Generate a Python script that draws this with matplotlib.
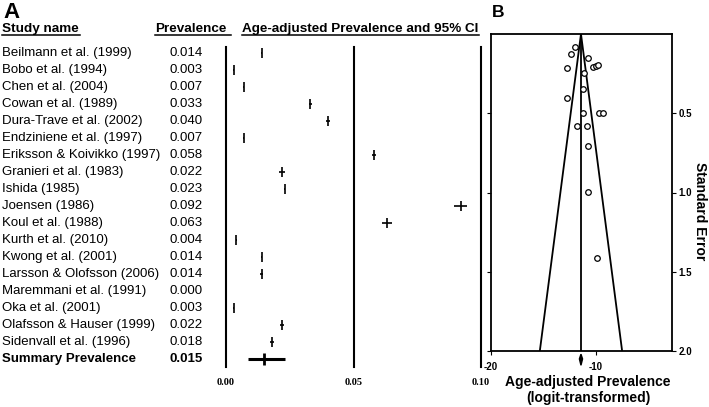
import matplotlib
matplotlib.use('Agg')
from matplotlib import pyplot as plt
from matplotlib import transforms
from matplotlib.lines import Line2D

plt.rcParams['font.family'] = ['Liberation Sans', 'DejaVu Sans']

#Panel A: forest plot data
studies = ['Beilmann et al. (1999)', 'Bobo et al. (1994)', 'Chen et al. (2004)',
           'Cowan et al. (1989)', 'Dura-Trave et al. (2002)', 'Endziniene et al. (1997)',
           'Eriksson & Koivikko (1997)', 'Granieri et al. (1983)', 'Ishida (1985)',
           'Joensen (1986)', 'Koul et al. (1988)', 'Kurth et al. (2010)',
           'Kwong et al. (2001)', 'Larsson & Olofsson (2006)', 'Maremmani et al. (1991)',
           'Oka et al. (2001)', 'Olafsson & Hauser (1999)', 'Sidenvall et al. (1996)']
prev = [0.014, 0.003, 0.007, 0.033, 0.040, 0.007, 0.058, 0.022, 0.023,
        0.092, 0.063, 0.004, 0.014, 0.014, 0.000, 0.003, 0.022, 0.018]
ci_lo = [0.0137, 0.0028, 0.0068, 0.0325, 0.0393, 0.0068, 0.0573, 0.0208, 0.0228,
         0.0893, 0.0610, 0.0038, 0.0138, 0.0135, 0.0000, 0.0028, 0.0212, 0.0173]
ci_hi = [0.0143, 0.0032, 0.0072, 0.0337, 0.0407, 0.0072, 0.0587, 0.0232, 0.0232,
         0.0947, 0.0650, 0.0042, 0.0142, 0.0145, 0.0002, 0.0032, 0.0228, 0.0187]
summary_label = 'Summary Prevalence'
summary_prev = 0.015
summary_lo = 0.0086
summary_hi = 0.0231
forest_ticks = [0.00, 0.05, 0.10]
forest_ticklabels = ['0.00', '0.05', '0.10']

#Panel B: funnel plot data
logit_prev = [-12.00, -12.41, -12.79, -10.73, -10.31, -10.03, -9.78, -11.14, -11.21,
              -12.73, -11.21, -9.71, -9.30, -11.84, -10.89, -10.73, -10.73, -9.93]
std_err = [0.080, 0.128, 0.216, 0.153, 0.206, 0.200, 0.197, 0.248, 0.349,
           0.406, 0.500, 0.500, 0.500, 0.579, 0.579, 0.705, 0.999, 1.411]
funnel_center = -11.43
se_max = 2.0

W, H = 709, 407
fig = plt.figure(figsize=(W/100, H/100), dpi=100)
fig.patch.set_facecolor('white')

#---- Panel A ----
nrow = len(studies) + 1
axA = fig.add_axes([226/W, 1-367/H, 255/W, 320/H])
axA.set_xlim(0, 0.10)
axA.set_ylim(nrow-1 + 8/17, -6/17)
for s in axA.spines.values():
    s.set_visible(False)
axA.set_yticks([])
axA.set_xticks(forest_ticks)
axA.set_xticklabels(forest_ticklabels, family='Liberation Serif', weight='bold', size=7.5)
axA.tick_params(axis='x', length=0, pad=8)
for v in forest_ticks:
    axA.axvline(v, color='k', lw=1.5, clip_on=False)

rows = list(range(len(studies)))
axA.hlines(rows, ci_lo, ci_hi, color='k', lw=1.2)
axA.plot(prev, rows, '|', color='k', ms=7, mew=1.2)
axA.hlines(nrow-1, summary_lo, summary_hi, color='k', lw=2.2)
axA.plot([summary_prev], [nrow-1], '|', color='k', ms=9, mew=2)

trans = transforms.blended_transform_factory(fig.transFigure, axA.transData)
for i, name in enumerate(studies):
    fig.text(2/W, i, name, transform=trans, va='center', size=9.5)
    fig.text(170/W, i, '%.3f' % prev[i], transform=trans, va='center', size=9.5)
fig.text(2/W, nrow-1, summary_label, transform=trans, va='center', size=9.5, weight='bold')
fig.text(170/W, nrow-1, '%.3f' % summary_prev, transform=trans, va='center', size=9.5, weight='bold')

#headers with underline
hdrs = []
for x, s in [(2, 'Study name'), (155, 'Prevalence'), (242, 'Age-adjusted Prevalence and 95% CI')]:
    hdrs.append(fig.text(x/W, 1-32/H, s, va='baseline', size=9.7, weight='bold'))
fig.canvas.draw()
rend = fig.canvas.get_renderer()
for t, extra in zip(hdrs, [1, 5, 1]):
    bb = t.get_window_extent(rend)
    fig.add_artist(Line2D([bb.x0/W, (bb.x1+extra)/W], [(H-35)/H, (H-35)/H],
                          transform=fig.transFigure, color='k', lw=1.1))

fig.text(3/W, 1-18/H, 'A', size=16, weight='bold', va='baseline')
fig.text(492/W, 1-17/H, 'B', size=12.5, weight='bold', va='baseline')

#---- Panel B ----
axB = fig.add_axes([491/W, 1-351/H, 181/W, 317/H])
axB.set_xlim(-20, -2.76)
axB.set_ylim(se_max, 0)
for s in axB.spines.values():
    s.set_linewidth(1.3)
axB.plot([funnel_center, funnel_center], [0, se_max], color='k', lw=1.3)
axB.plot([funnel_center-1.96*se_max, funnel_center, funnel_center+1.96*se_max],
         [se_max, 0, se_max], color='k', lw=1.3)
axB.plot(logit_prev, std_err, 'o', ms=4, mfc='white', mec='k', mew=0.9)
axB.fill([funnel_center, funnel_center+0.15, funnel_center, funnel_center-0.15],
         [2.02, 2.05, 2.09, 2.05], color='k', clip_on=False)

axB.set_xticks([-20, -10])
axB.set_xticklabels(['-20', '-10'])
axB.set_yticks([0.5, 1.0, 1.5, 2.0])
axB.set_yticklabels(['0.5', '1.0', '1.5', '2.0'])
axB.tick_params(axis='x', direction='out', length=3, width=0.8, labelsize=7, pad=5)
axB.tick_params(axis='y', left=True, right=True, labelleft=False, labelright=True,
                direction='out', length=3, width=0.8, labelsize=7, pad=1.5)
for lab in axB.get_xticklabels() + axB.get_yticklabels():
    lab.set_fontweight('bold')

fig.text(700/W, 1-211/H, 'Standard Error', rotation=-90, ha='center', va='center',
         size=10, weight='bold')
fig.text(588/W, 1-390/H, 'Age-adjusted Prevalence\n(logit-transformed)', ha='center',
         va='center', size=10, weight='bold', linespacing=1.15)

fig.savefig('out.png', dpi=100)
